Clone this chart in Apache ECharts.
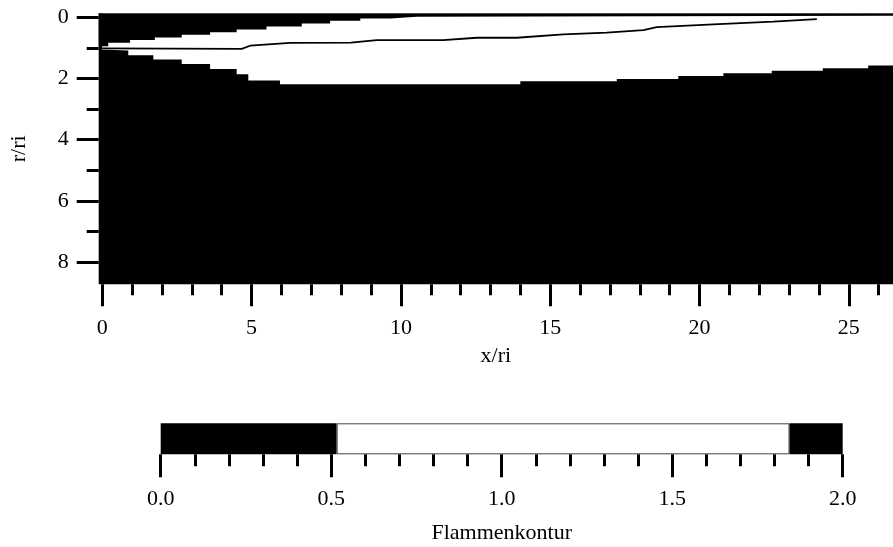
<!DOCTYPE html>
<html>
<head>
<meta charset="utf-8">
<script src="https://cdn.jsdelivr.net/npm/echarts@6/dist/echarts.min.js"></script>
<style>
html,body{margin:0;padding:0;background:#fff;}
#chart{width:893px;height:547px;}
</style>
</head>
<body>
<div id="chart"></div>
<script>
// ---- data (x/ri, r/ri) ----
// upper edge of the white flame zone (step-wise, value holds until next x)
const upperX = [-0.12, 0.2, 0.93, 1.76, 2.66, 3.61, 4.5, 5.5, 6.68, 7.63, 8.64, 9.64, 10.53, 26.48];
const upperR = [0.95, 0.83, 0.74, 0.66, 0.57, 0.49, 0.40, 0.30, 0.20, 0.11, 0.04, -0.02, -0.05, -0.05];
// lower edge of the white flame zone
const lowerX = [0, 0.2, 0.87, 1.71, 2.66, 3.61, 4.5, 4.89, 5.95, 14.0, 17.23, 19.29, 20.8, 22.42, 24.13, 25.65, 26.48];
const lowerR = [1.06, 1.09, 1.24, 1.38, 1.53, 1.69, 1.86, 2.07, 2.19, 2.09, 2.02, 1.92, 1.83, 1.75, 1.67, 1.58, 1.58];
// contour line inside the flame
const lineX = [0, 4.67, 4.95, 6.29, 8.33, 9.19, 11.41, 12.54, 13.88, 15.44, 16.89, 18.12, 18.57, 20.46, 22.47, 23.93];
const lineR = [1.02, 1.03, 0.93, 0.84, 0.83, 0.75, 0.75, 0.67, 0.67, 0.56, 0.50, 0.42, 0.32, 0.23, 0.14, 0.06];
// tick labels
const xMajorTicks = [0, 5, 10, 15, 20, 25];
const xMinorTicks = [1, 2, 3, 4, 6, 7, 8, 9, 11, 12, 13, 14, 16, 17, 18, 19, 21, 22, 23, 24, 26];
const yMajorTicks = [0, 2, 4, 6, 8];
const yMinorTicks = [1, 3, 5, 7];
// colour bar: boundaries of the value ranges (Flammenkontur) and their colours
const barEdges = [0, 0.516, 1.844, 2.0];
const barColors = ['#000000', '#ffffff', '#000000'];

const pairs = (xs, ys) => xs.map((x, i) => [x, ys[i]]);
const FONT = '"Liberation Serif","Times New Roman",serif';

const chart = echarts.init(document.getElementById('chart'), null, {renderer: 'canvas'});

const barSeries = [];
for (let i = 0; i < barColors.length; i++) {
  barSeries.push({
    type: 'bar', xAxisIndex: 2, yAxisIndex: 2, stack: 'cb', barWidth: '100%',
    data: [barEdges[i + 1] - barEdges[i]],
    itemStyle: {color: barColors[i], borderColor: i === 1 ? '#444' : barColors[i], borderWidth: i === 1 ? 1 : 0},
    silent: true
  });
}

const tickStyle = {color: '#000', width: 3};
const labelStyle = {color: '#000', fontSize: 22, fontFamily: FONT};
const noLine = {show: false, onZero: false};

chart.setOption({
  animation: false,
  textStyle: {fontFamily: FONT},
  grid: [
    {left: 98.7, right: 0, top: 13.3, height: 271, show: true, backgroundColor: '#000', borderWidth: 0},
    {left: 160.7, right: 50.3, top: 423.3, height: 31}
  ],
  xAxis: [
    {
      type: 'value', gridIndex: 0, min: -0.12, max: 26.48, position: 'bottom',
      axisLine: noLine, splitLine: {show: false},
      axisTick: {show: true, inside: false, length: 22, lineStyle: tickStyle, customValues: xMajorTicks},
      axisLabel: Object.assign({margin: 33, customValues: xMajorTicks}, labelStyle),
      name: 'x/ri', nameLocation: 'middle', nameGap: 61,
      nameTextStyle: {color: '#000', fontSize: 22, fontFamily: FONT}
    },
    {
      type: 'value', gridIndex: 0, min: -0.12, max: 26.48, position: 'bottom',
      axisLine: noLine, splitLine: {show: false},
      axisTick: {show: true, inside: false, length: 11, lineStyle: tickStyle, customValues: xMinorTicks},
      axisLabel: {show: false}
    },
    {
      type: 'value', gridIndex: 1, min: 0, max: 2, interval: 0.5, position: 'bottom',
      axisLine: noLine, splitLine: {show: false},
      axisTick: {show: true, inside: false, length: 23, lineStyle: tickStyle},
      axisLabel: Object.assign({margin: 34, formatter: v => v.toFixed(1)}, labelStyle),
      name: 'Flammenkontur', nameLocation: 'middle', nameGap: 68,
      nameTextStyle: {color: '#000', fontSize: 22, fontFamily: FONT}
    },
    {
      type: 'value', gridIndex: 1, min: 0, max: 2, interval: 0.1, position: 'bottom',
      axisLine: noLine, splitLine: {show: false},
      axisTick: {show: true, inside: false, length: 12, lineStyle: tickStyle},
      axisLabel: {show: false}
    }
  ],
  yAxis: [
    {
      type: 'value', gridIndex: 0, min: -0.13, max: 8.73, inverse: true, position: 'left',
      axisLine: noLine, splitLine: {show: false},
      axisTick: {show: true, inside: false, length: 22, lineStyle: tickStyle, customValues: yMajorTicks},
      axisLabel: Object.assign({margin: 30, customValues: yMajorTicks}, labelStyle),
      name: 'r/ri', nameLocation: 'middle', nameGap: 68, nameRotate: 90,
      nameTextStyle: {color: '#000', fontSize: 22, fontFamily: FONT}
    },
    {
      type: 'value', gridIndex: 0, min: -0.13, max: 8.73, inverse: true, position: 'left',
      axisLine: noLine, splitLine: {show: false},
      axisTick: {show: true, inside: false, length: 12, lineStyle: tickStyle, customValues: yMinorTicks},
      axisLabel: {show: false}
    },
    {
      type: 'category', gridIndex: 1, data: ['c'], show: false
    }
  ],
  series: [
    {
      type: 'line', xAxisIndex: 0, yAxisIndex: 0, step: 'end', symbol: 'none', silent: true,
      data: pairs(lowerX, lowerR),
      lineStyle: {width: 0, color: '#fff'},
      areaStyle: {color: '#fff', opacity: 1, origin: 'start'}
    },
    {
      type: 'line', xAxisIndex: 0, yAxisIndex: 0, step: 'end', symbol: 'none', silent: true,
      data: pairs(upperX, upperR),
      lineStyle: {width: 0, color: '#000'},
      areaStyle: {color: '#000', opacity: 1, origin: 'start'}
    },
    {
      type: 'line', xAxisIndex: 0, yAxisIndex: 0, symbol: 'none', silent: true,
      data: pairs(lineX, lineR),
      lineStyle: {width: 1.8, color: '#000'}
    }
  ].concat(barSeries)
});
</script>
</body>
</html>
